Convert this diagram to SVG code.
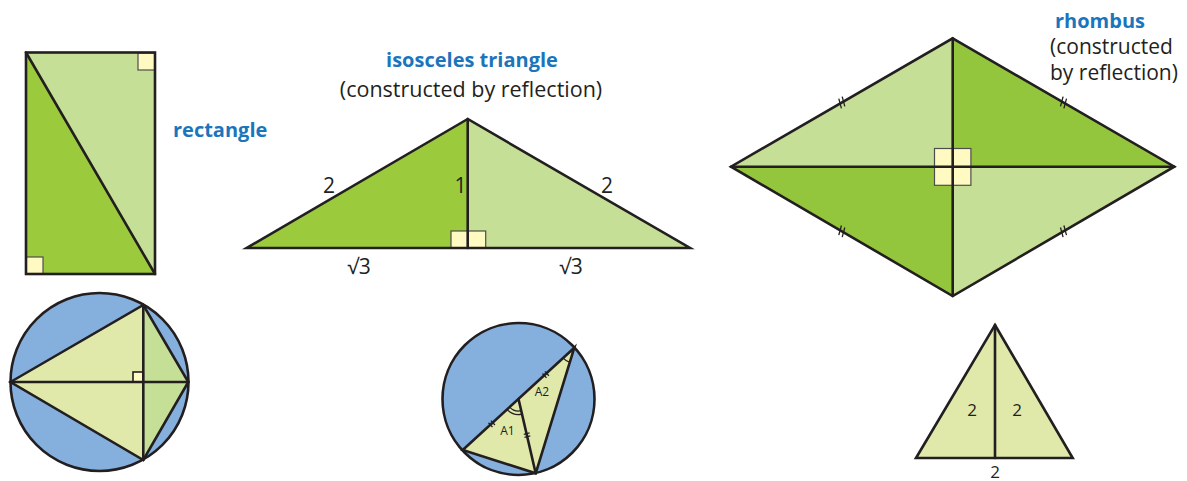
<svg xmlns="http://www.w3.org/2000/svg" width="1187" height="481" viewBox="0 0 1187 481">
<style>
.t{font-family:"Open Sans","Liberation Sans",sans-serif;fill:#231f20}
.h{font-family:"Open Sans","Liberation Sans",sans-serif;font-weight:700;fill:#1b75bc}
.ln{fill:none;stroke:#231f20;stroke-width:2.6;stroke-linejoin:miter;stroke-linecap:round}
.tk{fill:none;stroke:#231f20;stroke-width:1.3}
.sq{fill:#fffac2;stroke:#4d4d4d;stroke-width:1.2}
.dk{fill:#9bcb3c}
.dk2{fill:#93c63d}
.lt{fill:#c5df96}
.pl{fill:#e0e8aa}
.bl{fill:#85b0de}
</style>
<rect width="1187" height="481" fill="#ffffff"/>

<g id="rectangle">
  <polygon class="dk" points="26,52.5 155,274 26,274"/>
  <polygon class="lt" points="26,52.5 155,52.5 155,274"/>
  <rect class="sq" x="138" y="53" width="17" height="17"/>
  <rect class="sq" x="26" y="257" width="17" height="17"/>
  <rect class="ln" x="26" y="52.5" width="129" height="221.5"/>
  <line class="ln" x1="26" y1="52.5" x2="155" y2="274"/>
  <text class="h" x="173" y="137" font-size="20">rectangle</text>
</g>

<g id="isosceles-triangle">
  <polygon class="dk" points="467.7,119 246.7,248 467.7,248"/>
  <polygon class="lt" points="467.7,119 690,248 467.7,248"/>
  <rect class="sq" x="451" y="231" width="34.7" height="17.3"/>
  <polygon class="ln" points="467.7,119 246.7,248 690,248"/>
  <line class="ln" x1="467.7" y1="119" x2="467.7" y2="248"/>
  <text class="h" x="472" y="67" font-size="20" text-anchor="middle">isosceles triangle</text>
  <text class="t" x="471" y="97" font-size="21.5" text-anchor="middle">(constructed by reflection)</text>
  <text class="t" x="329" y="193" font-size="21" text-anchor="middle">2</text>
  <text class="t" x="460.5" y="193" font-size="21" text-anchor="middle">1</text>
  <text class="t" x="607" y="193" font-size="21" text-anchor="middle">2</text>
  <text class="t" x="359" y="273.5" font-size="21" text-anchor="middle">√3</text>
  <text class="t" x="571" y="273.5" font-size="21" text-anchor="middle">√3</text>
</g>

<g id="rhombus">
  <polygon class="lt" points="952.7,38.3 731,166.7 952.7,166.7"/>
  <polygon class="dk2" points="952.7,38.3 1174.3,166.7 952.7,166.7"/>
  <polygon class="dk2" points="731,166.7 952.7,296 952.7,166.7"/>
  <polygon class="lt" points="1174.3,166.7 952.7,296 952.7,166.7"/>
  <rect class="sq" x="934.5" y="148.5" width="36.4" height="36.8"/>
  <polygon class="ln" points="952.7,38.3 1174.3,166.7 952.7,296 731,166.7"/>
  <line class="ln" x1="731" y1="166.7" x2="1174.3" y2="166.7"/>
  <line class="ln" x1="952.7" y1="38.3" x2="952.7" y2="296"/>
  <g class="tk">
    <line x1="838.8" y1="98.7" x2="841.4" y2="108.3"/>
    <line x1="842.2" y1="96.7" x2="844.8" y2="106.3"/>
    <line x1="1063.1" y1="96.7" x2="1060.5" y2="106.3"/>
    <line x1="1066.5" y1="98.7" x2="1063.9" y2="108.3"/>
    <line x1="841.4" y1="225.5" x2="838.8" y2="235.1"/>
    <line x1="844.8" y1="227.5" x2="842.2" y2="237.1"/>
    <line x1="1060.5" y1="227.5" x2="1063.1" y2="237.1"/>
    <line x1="1063.9" y1="225.5" x2="1066.5" y2="235.1"/>
  </g>
  <text class="h" x="1055" y="28" font-size="20">rhombus</text>
  <text class="t" x="1050" y="54" font-size="21">(constructed</text>
  <text class="t" x="1050" y="80" font-size="21">by reflection)</text>
</g>

<g id="kite-circle">
  <circle class="bl" cx="99.5" cy="382" r="89"/>
  <polygon class="pl" points="10.5,382 143.3,305 143.3,460"/>
  <polygon class="lt" points="143.3,305 188.3,382 143.3,460"/>
  <rect x="133" y="372" width="10.3" height="10" fill="#fffac2" stroke="#231f20" stroke-width="1.6"/>
  <circle class="ln" cx="99.5" cy="382" r="89"/>
  <polygon class="ln" points="10.5,382 143.3,305 188.3,382 143.3,460"/>
  <line class="ln" x1="10.5" y1="382" x2="188.3" y2="382"/>
  <line class="ln" x1="143.3" y1="305" x2="143.3" y2="460"/>
</g>

<g id="inscribed-triangle">
  <circle class="bl" cx="518.5" cy="399" r="76"/>
  <polygon class="pl" points="462.7,450 574.3,347.7 535.7,473.3"/>
  <circle class="ln" cx="518.5" cy="399" r="76"/>
  <polygon class="ln" points="462.7,450 574.3,347.7 535.7,473.3"/>
  <line class="ln" x1="518.5" y1="399" x2="535.7" y2="473.3"/>
  <g class="tk">
    <path d="M 521.2 410.7 A 12 12 0 0 1 509.7 407.1"/>
    <path d="M 522 414.1 A 15.5 15.5 0 0 1 507.1 409.5"/>
    <path d="M 569.9 362.3 A 15 15 0 0 1 563.2 358.1"/>
    <line x1="488.5" y1="422.7" x2="492.5" y2="427.1"/>
    <line x1="490.9" y1="420.6" x2="494.9" y2="425"/>
    <line x1="542.5" y1="373.5" x2="546.5" y2="377.9"/>
    <line x1="544.9" y1="371.4" x2="548.9" y2="375.8"/>
    <line x1="523.8" y1="434.3" x2="529.6" y2="432.9"/>
    <line x1="524.5" y1="437.3" x2="530.3" y2="435.9"/>
  </g>
  <text class="t" x="507.5" y="435" font-size="12" text-anchor="middle">A1</text>
  <text class="t" x="542" y="395.7" font-size="12" text-anchor="middle">A2</text>
</g>

<g id="equilateral-triangle">
  <polygon class="pl" points="995,325 1072.7,458 916,458"/>
  <polygon class="ln" points="995,325 1072.7,458 916,458"/>
  <line class="ln" x1="995" y1="325" x2="995" y2="458"/>
  <text class="t" x="972" y="415.5" font-size="17" text-anchor="middle">2</text>
  <text class="t" x="1017" y="415.5" font-size="17" text-anchor="middle">2</text>
  <text class="t" x="995" y="478" font-size="17" text-anchor="middle">2</text>
</g>
</svg>
